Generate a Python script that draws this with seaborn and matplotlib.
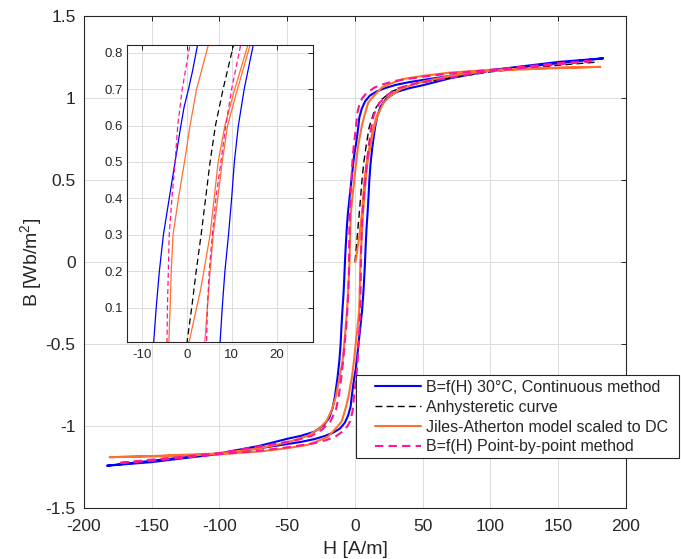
import numpy as np
import pandas as pd
import matplotlib
matplotlib.use('Agg')
import matplotlib.pyplot as plt
from matplotlib.patches import Rectangle
import seaborn as sns

# B=f(H) 30 deg C, continuous method: descending branch then ascending branch
blue_dn_h = [183, 150, 100, 70, 50, 40, 30, 22, 16, 11, 7.5, 5, 3.2, 2.4, 1.3, 0.4, -0.6, -1.3,
             -2.6, -3.9, -5.2, -6.1, -6.8, -7.4, -7.9, -8.5, -9.3, -10.0, -10.6, -11.5, -12.8,
             -14.8, -16.5, -19, -23, -30, -40, -50, -70, -100, -150, -183]
blue_dn_b = [1.242, 1.22, 1.17, 1.135, 1.11, 1.097, 1.08, 1.06, 1.04, 1.015, 0.98, 0.935, 0.88,
             0.82, 0.75, 0.70, 0.65, 0.60, 0.50, 0.40, 0.30, 0.20, 0.10, 0.0, -0.1, -0.2, -0.3,
             -0.4, -0.5, -0.6, -0.7, -0.82, -0.89, -0.95, -0.995, -1.035, -1.06, -1.078, -1.12,
             -1.167, -1.212, -1.242]
blue_up_h = [-183, -150, -100, -70, -50, -40, -30, -22, -16, -11, -7.5, -5, -3.2, -2.4, -1.3,
             -0.4, 0.6, 1.3, 2.6, 3.9, 5.2, 6.1, 6.8, 7.4, 7.9, 8.5, 9.3, 10.0, 10.6, 11.5, 12.8,
             14.8, 16.5, 19, 23, 30, 40, 50, 70, 100, 150, 183]
blue_up_b = [-1.242, -1.22, -1.17, -1.135, -1.11, -1.097, -1.08, -1.06, -1.04, -1.015, -0.98,
             -0.935, -0.88, -0.82, -0.75, -0.70, -0.65, -0.60, -0.50, -0.40, -0.30, -0.20, -0.10,
             0.0, 0.1, 0.2, 0.3, 0.4, 0.5, 0.6, 0.7, 0.82, 0.89, 0.95, 0.995, 1.035, 1.06, 1.078,
             1.12, 1.167, 1.212, 1.242]

# anhysteretic curve
anh_h = [0, 1.1, 2.1, 3.2, 4.2, 5.2, 6.4, 8.1, 10.4, 14.6, 19.5, 27, 40, 60, 100, 150, 180]
anh_b = [0, 0.1, 0.2, 0.3, 0.4, 0.5, 0.6, 0.7, 0.82, 0.93, 0.99, 1.04, 1.08, 1.11, 1.16, 1.2, 1.22]

# Jiles-Atherton model scaled to DC
ja_dn_h = [181, 150, 100, 70, 50, 35, 27, 20, 15.9, 12, 9.7, 6.7, 4.8, 2.2, 0.74, -0.5, -1.85,
           -3.05, -3.45, -3.7, -4.0, -4.6, -5.2, -5.9, -6.9, -7.9, -9.1, -11.3, -14.1, -17, -21,
           -27, -35, -50, -70, -100, -150, -181]
ja_dn_b = [1.19, 1.185, 1.172, 1.155, 1.135, 1.115, 1.09, 1.065, 1.03, 0.995, 0.97, 0.886, 0.82,
           0.70, 0.60, 0.50, 0.40, 0.30, 0.20, 0.10, 0.0, -0.1, -0.2, -0.3, -0.4, -0.5, -0.6,
           -0.7, -0.82, -0.9, -0.97, -1.02, -1.06, -1.1, -1.135, -1.167, -1.183, -1.19]
ja_up_h = [-181, -150, -100, -70, -50, -35, -27, -20, -15.9, -12, -9.7, -6.7, -4.8, -2.2, -0.74,
           0.5, 1.85, 3.05, 3.45, 3.7, 4.0, 4.6, 5.2, 5.9, 6.9, 7.9, 9.1, 11.3, 14.1, 17, 21, 27,
           35, 50, 70, 100, 150, 181]
ja_up_b = [-1.19, -1.185, -1.172, -1.155, -1.135, -1.115, -1.09, -1.065, -1.03, -0.995, -0.97,
           -0.886, -0.82, -0.70, -0.60, -0.50, -0.40, -0.30, -0.20, -0.10, 0.0, 0.1, 0.2, 0.3,
           0.4, 0.5, 0.6, 0.7, 0.82, 0.9, 0.97, 1.02, 1.06, 1.1, 1.135, 1.167, 1.183, 1.19]
ja_init_h = [0, 0.6, 1.3, 2.2, 3.1, 3.8, 5.2, 6.1, 7.0, 8.5, 10.7, 13.6, 16.5]
ja_init_b = [0, 0.01, 0.05, 0.1, 0.15, 0.2, 0.3, 0.4, 0.5, 0.6, 0.7, 0.82, 0.9]

# B=f(H) point-by-point method
pp_dn_h = [175, 150, 100, 70, 50, 30, 21, 14.6, 8.5, 5.5, 3.5, 1.8, 0.7, -1.0, -2.0, -2.6, -3.3,
           -3.9, -4.1, -4.3, -4.4, -4.6, -5.0, -5.7, -6.5, -7.6, -8.7, -10, -12, -14, -18, -24,
           -32, -45, -60, -100, -150, -175]
pp_dn_b = [1.226, 1.212, 1.172, 1.15, 1.13, 1.105, 1.085, 1.065, 1.03, 1.0, 0.97, 0.91, 0.82, 0.7,
           0.6, 0.5, 0.4, 0.3, 0.2, 0.1, 0.0, -0.1, -0.2, -0.3, -0.4, -0.5, -0.6, -0.7, -0.82,
           -0.9, -0.97, -1.02, -1.06, -1.09, -1.11, -1.165, -1.205, -1.226]
pp_up_h = [-175, -150, -100, -70, -50, -30, -21, -14.6, -8.5, -5.5, -3.5, -1.8, -0.7, 1.0, 2.0,
           2.6, 3.3, 3.9, 4.1, 4.3, 4.4, 4.6, 5.0, 5.7, 6.5, 7.6, 8.7, 10, 12, 14, 18, 24, 32, 45,
           60, 100, 150, 175]
pp_up_b = [-1.226, -1.212, -1.172, -1.15, -1.13, -1.105, -1.085, -1.065, -1.03, -1.0, -0.97,
           -0.91, -0.82, -0.7, -0.6, -0.5, -0.4, -0.3, -0.2, -0.1, 0.0, 0.1, 0.2, 0.3, 0.4, 0.5,
           0.6, 0.7, 0.82, 0.9, 0.97, 1.02, 1.06, 1.09, 1.11, 1.165, 1.205, 1.226]

labels = ['B=f(H) 30°C, Continuous method', 'Anhysteretic curve',
          'Jiles-Atherton model scaled to DC', 'B=f(H) Point-by-point method']

blue = '#0000FF'
orange = '#FF6F2E'
pink = '#FF1493'

sns.set_theme(style='whitegrid')
plt.rcParams['font.family'] = ['Liberation Sans', 'DejaVu Sans']
plt.rcParams['axes.unicode_minus'] = False
plt.rcParams['mathtext.default'] = 'regular'


def loop(h1, b1, h2, b2):
    return pd.DataFrame({'H': h1 + h2, 'B': b1 + b2})


blue_df = loop(blue_dn_h, blue_dn_b, blue_up_h, blue_up_b)
anh_df = pd.DataFrame({'H': anh_h, 'B': anh_b})
ja_df = loop(ja_dn_h, ja_dn_b, ja_up_h, ja_up_b)
ja_init_df = pd.DataFrame({'H': ja_init_h, 'B': ja_init_b})
pp_df = loop(pp_dn_h, pp_dn_b, pp_up_h, pp_up_b)


def draw(ax, lw, black_lw, lab):
    kw = dict(x='H', y='B', sort=False, estimator=None, ax=ax)
    sns.lineplot(data=blue_df, color=blue, lw=lw, label=labels[0] if lab else None, **kw)
    sns.lineplot(data=anh_df, color='black', lw=black_lw, ls=(0, (5, 3)),
                 label=labels[1] if lab else None, **kw)
    sns.lineplot(data=ja_df, color=orange, lw=lw, label=labels[2] if lab else None, **kw)
    sns.lineplot(data=ja_init_df, color=orange, lw=lw, **kw)
    sns.lineplot(data=pp_df, color=pink, lw=lw, ls=(0, (4, 2.5)),
                 label=labels[3] if lab else None, **kw)


def style(ax, fs, xpad, ypad):
    ax.grid(True, color='#DCDCDC', lw=0.7)
    for s in ax.spines.values():
        s.set_color('#262626')
        s.set_linewidth(0.8)
    ax.tick_params(direction='in', length=3.5, width=0.7, colors='#262626',
                   top=True, right=True, labelsize=fs)
    ax.tick_params(axis='x', pad=xpad)
    ax.tick_params(axis='y', pad=ypad)


fig = plt.figure(figsize=(6.81, 5.59), dpi=100)
ax = fig.add_axes([0.1233, 0.0912, 0.7959, 0.8801])
draw(ax, 1.5, 1.0, True)
ax.set_xlim(-200, 200)
ax.set_ylim(-1.5, 1.5)
ax.set_xticks(np.arange(-200, 201, 50))
ax.set_yticks(np.arange(-1.5, 1.51, 0.5))
ax.set_yticklabels(['-1.5', '-1', '-0.5', '0', '0.5', '1', '1.5'])
style(ax, 12.5, 8, 6)
ax.set_xlabel('H [A/m]', fontsize=14, color='#262626', labelpad=5)
ax.set_ylabel('B [Wb/m$^2$]', fontsize=14, color='#262626', labelpad=1)

handles, labs = ax.get_legend_handles_labels()
ax.get_legend().remove()
fig.add_artist(Rectangle((356 / 681, 1 - 458 / 559), 323 / 681, 83 / 559,
                         transform=fig.transFigure, facecolor='white',
                         edgecolor='#262626', lw=0.8, zorder=3))
fig.legend(handles, labs, loc='upper left', bbox_to_anchor=(367 / 681, 1 - 372 / 559),
           frameon=False, borderpad=0, fontsize=11.5, handlelength=2.9,
           handletextpad=0.3, labelspacing=0.3)

axin = fig.add_axes([0.1865, 0.388, 0.273, 0.531])
draw(axin, 0.9, 0.9, False)
axin.set_xlim(-13.3, 28.1)
axin.set_ylim(0.006, 0.82)
axin.set_xticks([-10, 0, 10, 20])
axin.set_yticks(np.arange(0.1, 0.81, 0.1))
axin.set_yticklabels(['0.1', '0.2', '0.3', '0.4', '0.5', '0.6', '0.7', '0.8'])
axin.set_xlabel('')
axin.set_ylabel('')
style(axin, 9.5, 5, 3)

fig.savefig('out.png', dpi=100)
